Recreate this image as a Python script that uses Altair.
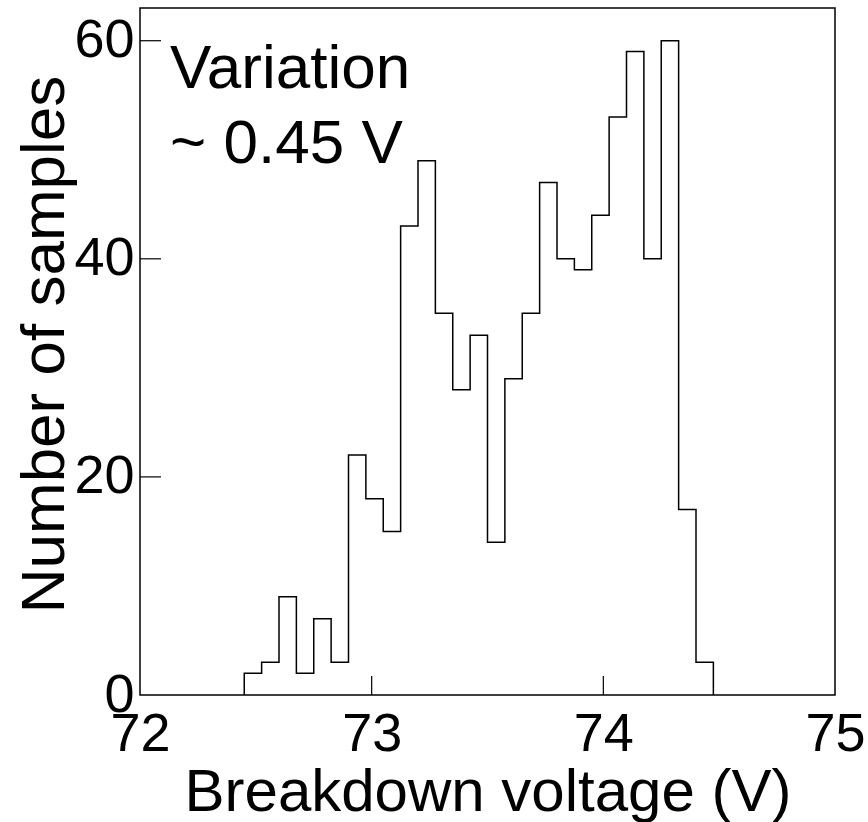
import altair as alt
import pandas as pd

# ---- data ----
bin_start = 72.45
bin_width = 0.075
counts = [2, 3, 9, 2, 7, 3, 22, 18, 15, 43, 49, 35, 28, 33, 14, 29, 35, 47,
          40, 39, 44, 53, 59, 40, 60, 17, 3]
x_ticks = [72, 73, 74, 75]
y_ticks = [0, 20, 40, 60]
inner_x_ticks = [73, 74]
inner_y_ticks = [20, 40, 60]
note_lines = ["Variation", "~ 0.45 V"]
note_x = [72.13, 72.13]
note_y = [55.7, 48.8]

FONT = "Liberation Sans"

edges = [round(bin_start + bin_width * i, 4) for i in range(len(counts) + 1)]
step_x = [edges[0]] + edges[:-1] + [edges[-1]]
step_y = [0] + counts + [0]
step_df = pd.DataFrame({"x": step_x, "y": step_y, "i": range(len(step_x))})

xscale = alt.Scale(domain=[72, 75], nice=False, zero=False)
yscale = alt.Scale(domain=[0, 63], nice=False)

W, H = 695, 687

hist = alt.Chart(step_df).mark_line(
    interpolate="step-after", color="black", strokeWidth=1.5
).encode(
    x=alt.X("x:Q", scale=xscale, axis=alt.Axis(
        values=x_ticks, format="d", title="Breakdown voltage (V)", domain=False,
        ticks=False, labelPadding=12, labelFontSize=54, labelFont=FONT,
        labelColor="black", labelFlush=False, labelOverlap=False,
        titleFont=FONT, titleFontSize=60, titleFontWeight="normal",
        titleColor="black", titleBaseline="alphabetic", titleY=115,
        titleX=W / 2, grid=False)),
    y=alt.Y("y:Q", scale=yscale, axis=alt.Axis(
        values=y_ticks, format="d", title="Number of samples", domain=False,
        ticks=False, labelPadding=6, labelFontSize=54, labelFont=FONT,
        labelColor="black", labelFlush=False, labelOverlap=False,
        titleFont=FONT, titleFontSize=62, titleFontWeight="normal",
        titleColor="black", titleAngle=-90, titleBaseline="alphabetic",
        titleX=-77, titleY=336, grid=False)),
    order="i:O",
)

ytick_df = pd.DataFrame({"v": inner_y_ticks})
ytk = alt.Chart(ytick_df).mark_rule(color="black", strokeWidth=1.2).encode(
    y=alt.Y("v:Q", scale=yscale), x=alt.value(0), x2=alt.value(21)
)
xtick_df = pd.DataFrame({"v": inner_x_ticks})
xtk = alt.Chart(xtick_df).mark_rule(color="black", strokeWidth=1.2).encode(
    x=alt.X("v:Q", scale=xscale), y=alt.value(H), y2=alt.value(H - 19)
)

note_df = pd.DataFrame({"t": note_lines, "x": note_x, "y": note_y})
notes = alt.Chart(note_df).mark_text(
    align="left", baseline="alphabetic", font=FONT, fontSize=62, color="black"
).encode(
    x=alt.X("x:Q", scale=xscale), y=alt.Y("y:Q", scale=yscale), text="t:N"
)

chart = alt.layer(hist, ytk, xtk, notes).properties(
    width=W, height=H,
    autosize=alt.AutoSizeParams(type="none"),
    padding={"left": 140, "top": 8, "right": 33, "bottom": 127},
    background="white",
).configure_view(stroke="black", strokeWidth=1.5)

chart.save("out.html", embed_options={"renderer": "svg", "actions": False})
